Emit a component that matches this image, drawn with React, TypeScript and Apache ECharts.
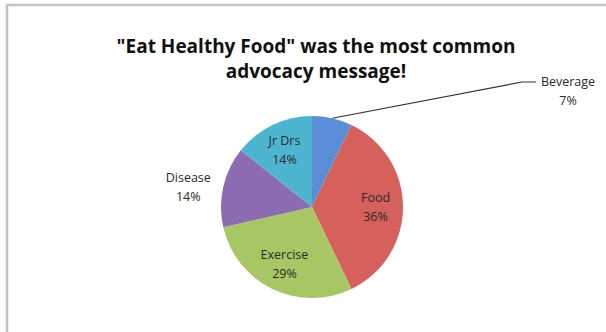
import React, { useEffect, useRef } from "react";
import * as echarts from "echarts";

const titleLines = ['"Eat Healthy Food" was the most common', "advocacy message!"];
const categories = ["Beverage", "Food", "Exercise", "Disease", "Jr Drs"];
const counts = [1, 5, 4, 2, 2];
const colors = ["#5B8ED6", "#D6605B", "#A6C763", "#8B6CB1", "#4EB5D1"];
const insideLabels = ["Food", "Exercise", "Jr Drs"];

const FONT = "Open Sans";

export default function App() {
  const ref = useRef<HTMLDivElement>(null);
  useEffect(() => {
    if (!ref.current) return;
    const chart = echarts.init(ref.current, null, { renderer: "svg" });
    const rich = {
      n: { width: 64, align: "center", fontSize: 12.5, lineHeight: 19, color: "#2a2a2a", fontFamily: FONT },
    };
    const mainData = categories.map((name, i) => ({
      name,
      value: counts[i],
      itemStyle: { color: colors[i] },
      label: {
        show: name === "Beverage" || name === "Disease",
      },
      labelLine: { show: name === "Beverage" },
    }));
    const ghostData = categories.map((name, i) => ({
      name,
      value: counts[i],
      label: { show: insideLabels.includes(name) },
    }));
    chart.setOption({
      animation: false,
      title: {
        text: titleLines.join("\n"),
        left: 311,
        top: 28,
        textAlign: "center",
        textStyle: { fontSize: 19, fontWeight: "bold", lineHeight: 25, color: "#111", fontFamily: FONT },
      },
      graphic: [
        {
          type: "rect",
          shape: { x: 7, y: 5, width: 640, height: 360 },
          style: { fill: "none", stroke: "#c4c4c4", lineWidth: 2.5 },
          silent: true,
        },
      ],
      series: [
        {
          type: "pie",
          center: [312, 207],
          radius: 91,
          startAngle: 90,
          clockwise: true,
          avoidLabelOverlap: false,
          percentPrecision: 0,
          data: mainData,
          itemStyle: { borderWidth: 0 },
          label: {
            position: "outside",
            formatter: "{n|{b}}\n{n|{d}%}",
            rich,
            distanceToLabelLine: 0,
          },
          labelLine: { length: 0, length2: 3, lineStyle: { color: "#333", width: 1.2 } },
          labelLayout: (p: any) => {
            if (p.dataIndex !== 0) return {};
            const anchor = p.labelLinePoints ? p.labelLinePoints[0] : [332, 118];
            return {
              x: 536,
              y: 91,
              align: "left",
              verticalAlign: "middle",
              labelLinePoints: [anchor, [522, 82], [536, 82]],
            };
          },
        },
        {
          type: "pie",
          center: [312, 207],
          radius: 121,
          startAngle: 90,
          clockwise: true,
          silent: true,
          percentPrecision: 0,
          data: ghostData,
          itemStyle: { color: "rgba(0,0,0,0)" },
          label: {
            position: "inside",
            formatter: "{n|{b}}\n{n|{d}%}",
            rich,
          },
          labelLine: { show: false },
        },
      ],
    });
    return () => chart.dispose();
  }, []);
  return (
    <div
      ref={ref}
      style={{ position: "absolute", left: 0, top: 0, width: 606, height: 332, background: "#fff" }}
    />
  );
}
